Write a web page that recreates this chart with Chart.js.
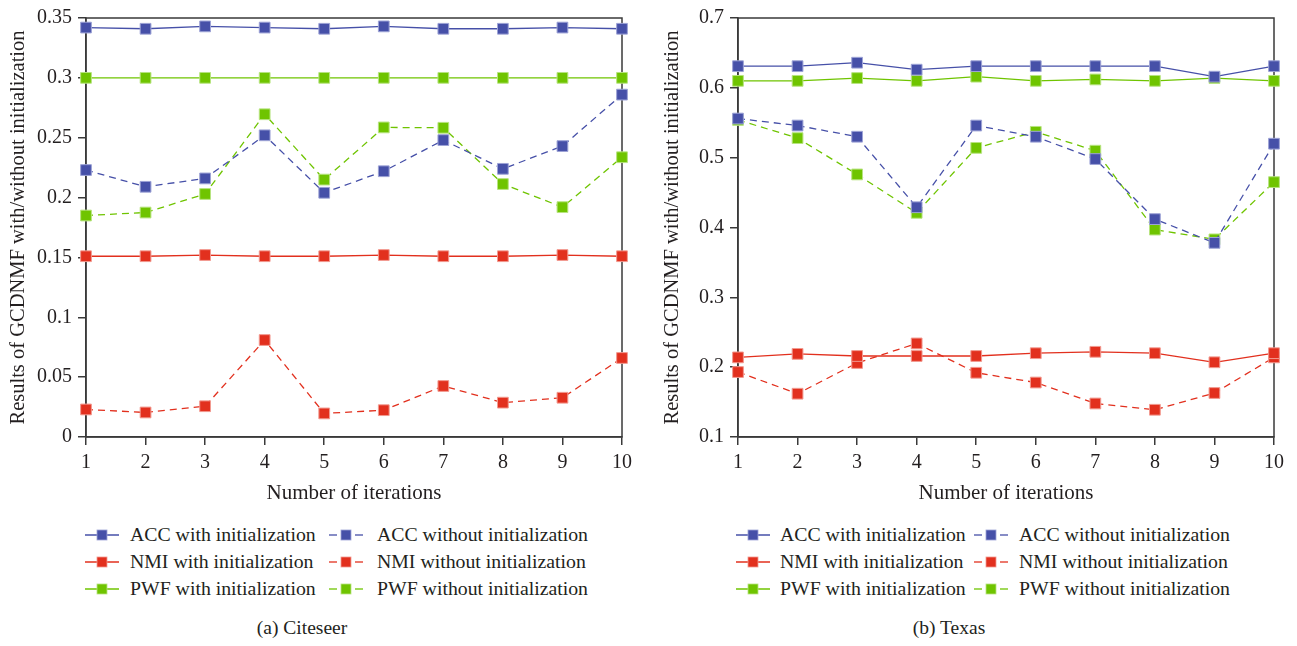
<!DOCTYPE html>
<html><head><meta charset="utf-8">
<script src="https://cdn.jsdelivr.net/npm/chart.js@4/dist/chart.umd.min.js"></script>
<style>
html,body{margin:0;padding:0;background:#fff}
body{width:1297px;height:646px;position:relative;overflow:hidden;font-family:"Liberation Serif","Times New Roman",serif;color:#231f20}
canvas{position:absolute;top:0}
.lt{position:absolute;font-size:19.8px;line-height:20px;white-space:nowrap}
.sym{position:absolute}
.cap{position:absolute;font-size:19.5px;line-height:20px;white-space:nowrap;transform:translateX(-50%)}
</style></head><body>
<canvas id="c1" width="640" height="512" style="left:0"></canvas>
<canvas id="c2" width="647" height="512" style="left:650px"></canvas>
<div id="leg"></div>
<div class="cap" style="left:302px;top:618px">(a) Citeseer</div>
<div class="cap" style="left:949px;top:618px">(b) Texas</div>
<script>
const iterations = ['1','2','3','4','5','6','7','8','9','10'];
const seriesNames = ['ACC with initialization','ACC without initialization','NMI with initialization','NMI without initialization','PWF with initialization','PWF without initialization'];

// (a) Citeseer
const citeseerAccWith    = [0.342,0.341,0.343,0.342,0.341,0.343,0.341,0.341,0.342,0.341];
const citeseerAccWithout = [0.223,0.209,0.216,0.252,0.204,0.222,0.248,0.224,0.243,0.286];
const citeseerNmiWith    = [0.151,0.151,0.152,0.151,0.151,0.152,0.151,0.151,0.152,0.151];
const citeseerNmiWithout = [0.023,0.0205,0.0257,0.081,0.0197,0.0224,0.0426,0.0287,0.0328,0.066];
const citeseerPwfWith    = [0.300,0.300,0.300,0.300,0.300,0.300,0.300,0.300,0.300,0.300];
const citeseerPwfWithout = [0.185,0.1875,0.203,0.2696,0.215,0.2586,0.2583,0.2113,0.192,0.2337];
const citeseerTicks = ['0','0.05','0.1','0.15','0.2','0.25','0.3','0.35'];

// (b) Texas
const texasAccWith    = [0.631,0.631,0.636,0.626,0.631,0.631,0.631,0.631,0.616,0.631];
const texasAccWithout = [0.556,0.546,0.530,0.429,0.546,0.530,0.498,0.412,0.378,0.520];
const texasNmiWith    = [0.214,0.219,0.216,0.216,0.216,0.220,0.222,0.220,0.207,0.220];
const texasNmiWithout = [0.193,0.162,0.206,0.234,0.192,0.178,0.148,0.139,0.163,0.214];
const texasPwfWith    = [0.610,0.610,0.614,0.610,0.616,0.610,0.612,0.610,0.614,0.610];
const texasPwfWithout = [0.554,0.528,0.476,0.421,0.514,0.537,0.510,0.397,0.383,0.465];
const texasTicks = ['0.1','0.2','0.3','0.4','0.5','0.6','0.7'];

const BLUE = '#4650a8', RED = '#e2301e', GREEN = '#6fc400';
const BLUE_L = '#9da3d6', RED_L = '#f29a90', GREEN_L = '#b8e480';
const colors = [BLUE, BLUE, RED, RED, GREEN, GREEN];
const lightColors = [BLUE_L, BLUE_L, RED_L, RED_L, GREEN_L, GREEN_L];
const dashed = [false, true, false, true, false, true];
const FONT = "'Liberation Serif', 'Times New Roman', serif";
const TXT = '#231f20';
const AX = '#3a3a3a';

function makeDatasets(arrs){
  return arrs.map((d,i)=>({
    label: seriesNames[i],
    data: d,
    borderColor: colors[i],
    backgroundColor: colors[i],
    borderWidth: 1.3,
    borderDash: dashed[i] ? [7,5] : [],
    pointStyle: 'rect',
    pointRadius: 7.6,
    pointHoverRadius: 7.6,
    pointBackgroundColor: colors[i],
    pointBorderColor: lightColors[i],
    pointBorderWidth: 1,
    tension: 0,
    clip: false
  }));
}

const framePlugin = {
  id: 'frame',
  beforeDatasetsDraw(chart){
    const a = chart.chartArea, c = chart.ctx;
    c.save();
    c.strokeStyle = AX; c.lineWidth = 1.5;
    c.strokeRect(a.left, a.top, a.right - a.left, a.bottom - a.top);
    c.restore();
  }
};

function makeChart(id, arrs, ymin, ymax, step, tickLabels, yWidth, padRight, titlePad){
  new Chart(document.getElementById(id), {
    type: 'line',
    data: { labels: iterations, datasets: makeDatasets(arrs) },
    options: {
      responsive: false, animation: false, devicePixelRatio: 1,
      layout: { padding: { top: 14, right: padRight, bottom: 0, left: 0 } },
      plugins: { legend: { display: false }, tooltip: { enabled: false } },
      scales: {
        x: {
          offset: false,
          grid: { drawOnChartArea: false, drawTicks: true, tickLength: 8, color: AX, lineWidth: 1.5 },
          border: { color: AX, width: 1.5 },
          ticks: { font: { family: FONT, size: 20 }, color: TXT, padding: 6, maxRotation: 0 },
          title: { display: true, text: 'Number of iterations', font: { family: FONT, size: 21 }, color: TXT, padding: { top: 0, bottom: 6 } },
          afterFit(s){ s.height = 75; }
        },
        y: {
          min: ymin, max: ymax,
          grid: { drawOnChartArea: false, drawTicks: true, tickLength: 8, color: AX, lineWidth: 1.5 },
          border: { color: AX, width: 1.5 },
          ticks: {
            stepSize: step, font: { family: FONT, size: 20 }, color: TXT, padding: 6,
            callback(v){ const s = String(parseFloat(v.toFixed(2))); return tickLabels.includes(s) ? s : null; }
          },
          title: { display: true, text: 'Results of GCDNMF with/without initialization', font: { family: FONT, size: 20.5 }, color: TXT, padding: { top: titlePad, bottom: 0 } },
          afterFit(s){ s.width = yWidth; }
        }
      }
    },
    plugins: [framePlugin]
  });
}

makeChart('c1', [citeseerAccWith, citeseerAccWithout, citeseerNmiWith, citeseerNmiWithout, citeseerPwfWith, citeseerPwfWithout], 0, 0.35, 0.05, citeseerTicks, 86, 18, 6);
makeChart('c2', [texasAccWith, texasAccWithout, texasNmiWith, texasNmiWithout, texasPwfWith, texasPwfWithout], 0.1, 0.7, 0.1, texasTicks, 88, 23, 10);

// legends
function buildLegend(col1Sym, col1Txt, col2Sym, col2Txt){
  const leg = document.getElementById('leg');
  const rows = [535, 562, 589];
  const order = [[0,1],[2,3],[4,5]];
  order.forEach((pair, r) => {
    pair.forEach((idx, c) => {
      const sx = c === 0 ? col1Sym : col2Sym;
      const tx = c === 0 ? col1Txt : col2Txt;
      const cy = rows[r];
      const svgNS = 'http://www.w3.org/2000/svg';
      const svg = document.createElementNS(svgNS, 'svg');
      svg.setAttribute('width', '36'); svg.setAttribute('height', '14');
      svg.setAttribute('class', 'sym');
      svg.style.left = sx + 'px'; svg.style.top = (cy - 7) + 'px';
      const col = colors[idx];
      const line = (x1, x2) => { const l = document.createElementNS(svgNS, 'line'); l.setAttribute('x1', x1); l.setAttribute('x2', x2); l.setAttribute('y1', 7); l.setAttribute('y2', 7); l.setAttribute('stroke', col); l.setAttribute('stroke-width', '1.3'); svg.appendChild(l); };
      if (dashed[idx]) { line(0, 8); line(26, 34); } else { line(0, 34); }
      const rect = document.createElementNS(svgNS, 'rect');
      rect.setAttribute('x', 12); rect.setAttribute('y', 2); rect.setAttribute('width', 10); rect.setAttribute('height', 10);
      rect.setAttribute('fill', col); rect.setAttribute('stroke', lightColors[idx]); rect.setAttribute('stroke-width', '0.8');
      svg.appendChild(rect);
      leg.appendChild(svg);
      const t = document.createElement('div');
      t.className = 'lt'; t.textContent = seriesNames[idx];
      t.style.left = tx + 'px'; t.style.top = (cy - 11) + 'px';
      leg.appendChild(t);
    });
  });
}
buildLegend(85, 130, 329, 377);
buildLegend(736, 780, 974, 1019);
</script>
</body></html>
